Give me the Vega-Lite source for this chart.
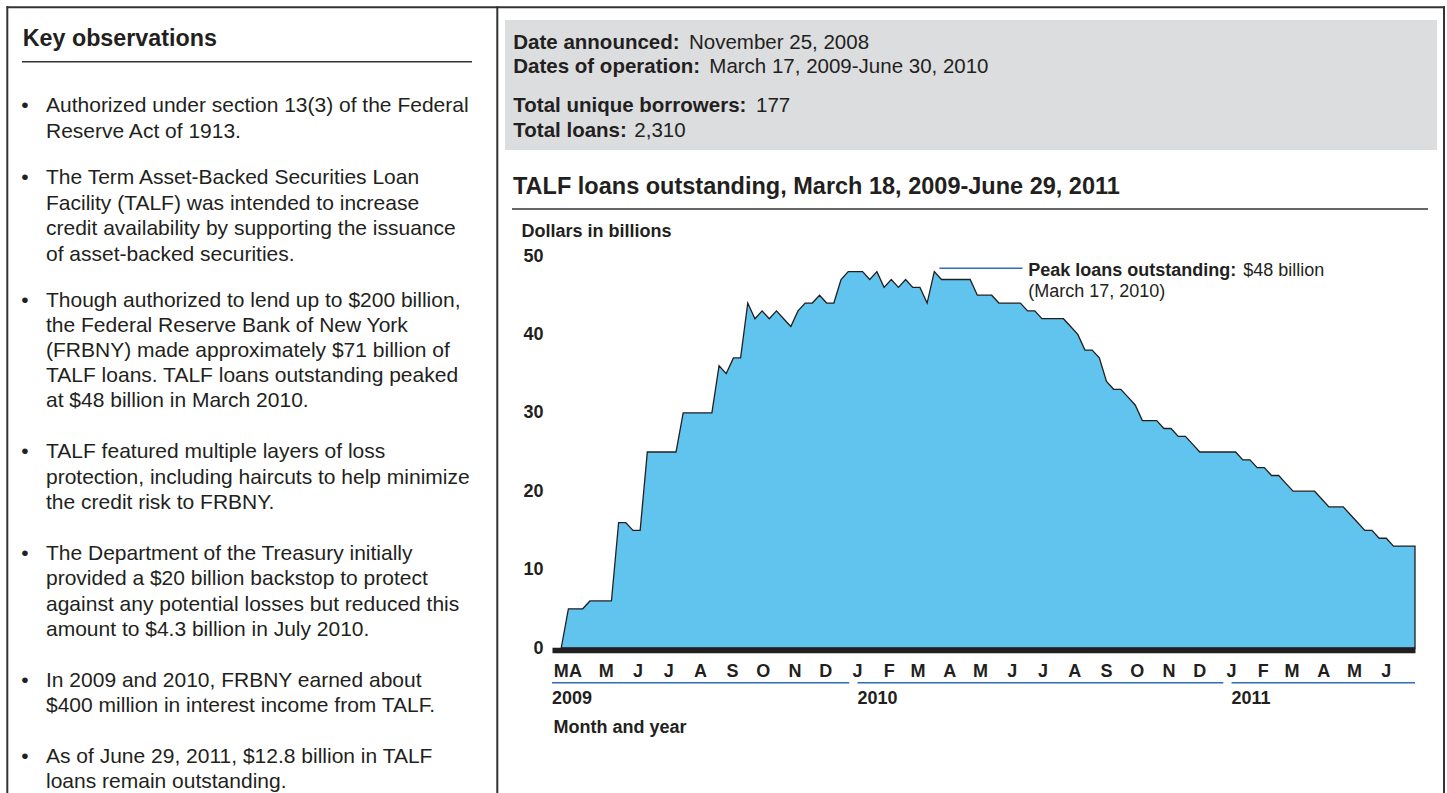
{
  "$schema": "https://vega.github.io/schema/vega-lite/v6.json",
  "width": 863,
  "height": 392,
  "autosize": {"type": "none"},
  "padding": {"left": 552, "top": 256, "right": 32, "bottom": 145},
  "background": "white",
  "config": {"font": "Liberation Sans", "view": {"stroke": null}, "text": {"color": "#231f20"}},
  "datasets": {
    "talf": [
      {"date": "2009-03-18", "loans": 0}, {"date": "2009-03-25", "loans": 5}, {"date": "2009-04-01", "loans": 5}, {"date": "2009-04-08", "loans": 5},
      {"date": "2009-04-15", "loans": 6}, {"date": "2009-04-22", "loans": 6}, {"date": "2009-04-29", "loans": 6}, {"date": "2009-05-06", "loans": 6},
      {"date": "2009-05-13", "loans": 16}, {"date": "2009-05-20", "loans": 16}, {"date": "2009-05-27", "loans": 15}, {"date": "2009-06-03", "loans": 15},
      {"date": "2009-06-10", "loans": 25}, {"date": "2009-06-17", "loans": 25}, {"date": "2009-06-24", "loans": 25}, {"date": "2009-07-01", "loans": 25},
      {"date": "2009-07-08", "loans": 25}, {"date": "2009-07-15", "loans": 30}, {"date": "2009-07-22", "loans": 30}, {"date": "2009-07-29", "loans": 30},
      {"date": "2009-08-05", "loans": 30}, {"date": "2009-08-12", "loans": 30}, {"date": "2009-08-19", "loans": 36}, {"date": "2009-08-26", "loans": 35},
      {"date": "2009-09-02", "loans": 37}, {"date": "2009-09-09", "loans": 37}, {"date": "2009-09-16", "loans": 44}, {"date": "2009-09-23", "loans": 42},
      {"date": "2009-09-30", "loans": 43}, {"date": "2009-10-07", "loans": 42}, {"date": "2009-10-14", "loans": 43}, {"date": "2009-10-21", "loans": 42},
      {"date": "2009-10-28", "loans": 41}, {"date": "2009-11-04", "loans": 43}, {"date": "2009-11-11", "loans": 44}, {"date": "2009-11-18", "loans": 44},
      {"date": "2009-11-25", "loans": 45}, {"date": "2009-12-02", "loans": 44}, {"date": "2009-12-09", "loans": 44}, {"date": "2009-12-16", "loans": 47},
      {"date": "2009-12-23", "loans": 48}, {"date": "2009-12-30", "loans": 48},
      {"date": "2010-01-06", "loans": 48}, {"date": "2010-01-13", "loans": 47}, {"date": "2010-01-20", "loans": 48}, {"date": "2010-01-27", "loans": 46},
      {"date": "2010-02-03", "loans": 47}, {"date": "2010-02-10", "loans": 46}, {"date": "2010-02-17", "loans": 47}, {"date": "2010-02-24", "loans": 46},
      {"date": "2010-03-03", "loans": 46}, {"date": "2010-03-10", "loans": 44}, {"date": "2010-03-17", "loans": 48}, {"date": "2010-03-24", "loans": 47},
      {"date": "2010-03-31", "loans": 47}, {"date": "2010-04-07", "loans": 47}, {"date": "2010-04-14", "loans": 47}, {"date": "2010-04-21", "loans": 47},
      {"date": "2010-04-28", "loans": 45}, {"date": "2010-05-05", "loans": 45}, {"date": "2010-05-12", "loans": 45}, {"date": "2010-05-19", "loans": 44},
      {"date": "2010-05-26", "loans": 44}, {"date": "2010-06-02", "loans": 44}, {"date": "2010-06-09", "loans": 44}, {"date": "2010-06-16", "loans": 43},
      {"date": "2010-06-23", "loans": 43}, {"date": "2010-06-30", "loans": 42}, {"date": "2010-07-07", "loans": 42}, {"date": "2010-07-14", "loans": 42},
      {"date": "2010-07-21", "loans": 42}, {"date": "2010-07-28", "loans": 41}, {"date": "2010-08-04", "loans": 40}, {"date": "2010-08-11", "loans": 38},
      {"date": "2010-08-18", "loans": 38}, {"date": "2010-08-25", "loans": 37}, {"date": "2010-09-01", "loans": 34}, {"date": "2010-09-08", "loans": 33},
      {"date": "2010-09-15", "loans": 33}, {"date": "2010-09-22", "loans": 32}, {"date": "2010-09-29", "loans": 31}, {"date": "2010-10-06", "loans": 29},
      {"date": "2010-10-13", "loans": 29}, {"date": "2010-10-20", "loans": 29}, {"date": "2010-10-27", "loans": 28}, {"date": "2010-11-03", "loans": 28},
      {"date": "2010-11-10", "loans": 27}, {"date": "2010-11-17", "loans": 27}, {"date": "2010-11-24", "loans": 26}, {"date": "2010-12-01", "loans": 25},
      {"date": "2010-12-08", "loans": 25}, {"date": "2010-12-15", "loans": 25}, {"date": "2010-12-22", "loans": 25}, {"date": "2010-12-29", "loans": 25},
      {"date": "2011-01-05", "loans": 25}, {"date": "2011-01-12", "loans": 24}, {"date": "2011-01-19", "loans": 24}, {"date": "2011-01-26", "loans": 23},
      {"date": "2011-02-02", "loans": 23}, {"date": "2011-02-09", "loans": 22}, {"date": "2011-02-16", "loans": 22}, {"date": "2011-02-23", "loans": 21},
      {"date": "2011-03-02", "loans": 20}, {"date": "2011-03-09", "loans": 20}, {"date": "2011-03-16", "loans": 20}, {"date": "2011-03-23", "loans": 20},
      {"date": "2011-03-30", "loans": 19}, {"date": "2011-04-06", "loans": 18}, {"date": "2011-04-13", "loans": 18}, {"date": "2011-04-20", "loans": 18},
      {"date": "2011-04-27", "loans": 17}, {"date": "2011-05-04", "loans": 16}, {"date": "2011-05-11", "loans": 15}, {"date": "2011-05-18", "loans": 15},
      {"date": "2011-05-25", "loans": 14}, {"date": "2011-06-01", "loans": 14}, {"date": "2011-06-08", "loans": 13}, {"date": "2011-06-15", "loans": 13},
      {"date": "2011-06-22", "loans": 13}, {"date": "2011-06-29", "loans": 13}
    ],
    "years": [
      {"year": "2009", "start": "2009-03-09", "end": "2009-12-24"},
      {"year": "2010", "start": "2010-01-01", "end": "2010-12-24"},
      {"year": "2011", "start": "2011-01-01", "end": "2011-06-29"}
    ],
    "months": [
      {"m": "M", "date": "2009-03-18"}, {"m": "A", "date": "2009-04-01"}, {"m": "M", "date": "2009-05-01"}, {"m": "J", "date": "2009-06-01"},
      {"m": "J", "date": "2009-07-01"}, {"m": "A", "date": "2009-08-01"}, {"m": "S", "date": "2009-09-01"}, {"m": "O", "date": "2009-10-01"},
      {"m": "N", "date": "2009-11-01"}, {"m": "D", "date": "2009-12-01"},
      {"m": "J", "date": "2010-01-01"}, {"m": "F", "date": "2010-02-01"}, {"m": "M", "date": "2010-03-01"}, {"m": "A", "date": "2010-04-01"},
      {"m": "M", "date": "2010-05-01"}, {"m": "J", "date": "2010-06-01"}, {"m": "J", "date": "2010-07-01"}, {"m": "A", "date": "2010-08-01"},
      {"m": "S", "date": "2010-09-01"}, {"m": "O", "date": "2010-10-01"}, {"m": "N", "date": "2010-11-01"}, {"m": "D", "date": "2010-12-01"},
      {"m": "J", "date": "2011-01-01"}, {"m": "F", "date": "2011-02-01"}, {"m": "M", "date": "2011-03-01"}, {"m": "A", "date": "2011-04-01"},
      {"m": "M", "date": "2011-05-01"}, {"m": "J", "date": "2011-06-01"}
    ]
  },
  "data": {"values": [{}]},
  "layer": [
    {"mark": {"type": "rect", "x": -47, "x2": 885, "y": -236, "y2": -106, "fill": "#dcdddf"}},
    {"mark": {"type": "rect", "x": -545.5, "x2": 893, "y": -249.7, "y2": -247.7, "fill": "#333333"}},
    {"mark": {"type": "rect", "x": -545.7, "x2": -543.7, "y": -249.7, "y2": 540, "fill": "#333333"}},
    {"mark": {"type": "rect", "x": -55.7, "x2": -53.7, "y": -249.7, "y2": 540, "fill": "#333333"}},
    {"mark": {"type": "rect", "x": 891, "x2": 893, "y": -249.7, "y2": 540, "fill": "#333333"}},
    {"mark": {"type": "rect", "x": -530, "x2": -80, "y": -195, "y2": -193.6, "fill": "#333333"}},
    {"mark": {"type": "rect", "x": -40, "x2": 876, "y": -47.7, "y2": -46.3, "fill": "#333333"}},
    {
      "data": {"name": "talf"},
      "mark": {"type": "area", "fill": "#61c4ee", "stroke": "#231f20", "strokeWidth": 1.3, "opacity": 1, "fillOpacity": 1},
      "encoding": {
        "x": {
          "field": "date", "type": "temporal", "title": "Month and year",
          "scale": {"type": "utc", "domain": [{"year": 2009, "month": 3, "date": 9, "utc": true}, {"year": 2011, "month": 6, "date": 29, "utc": true}]},
          "axis": {
            "labels": false, "ticks": false, "tickSize": 0, "grid": false,
            "domainColor": "#231f20", "domainWidth": 5.4, "domainCap": "butt", "offset": 2, "zindex": 1,
            "title": "Month and year", "titleFontSize": 18, "titleFontWeight": "bold", "titleColor": "#231f20",
            "titleAlign": "left", "titleBaseline": "alphabetic", "titleX": 1, "titleY": 82.2
          }
        },
        "y": {
          "field": "loans", "type": "quantitative", "title": "Dollars in billions",
          "scale": {"domain": [0, 50], "nice": false},
          "axis": {
            "values": [0, 10, 20, 30, 40, 50],
            "labelFontSize": 18, "labelFontWeight": "bold", "labelColor": "#231f20", "labelPadding": 9, "labelBaseline": "middle",
            "ticks": false, "tickSize": 0, "domain": false, "grid": false,
            "title": "Dollars in billions", "titleAngle": 0, "titleAlign": "left", "titleBaseline": "alphabetic",
            "titleX": -31, "titleY": -20, "titleFontSize": 18, "titleFontWeight": "bold", "titleColor": "#231f20"
          }
        }
      }
    },
    {
      "data": {"name": "months"},
      "mark": {"type": "text", "align": "center", "baseline": "alphabetic", "fontSize": 18, "fontWeight": "bold", "color": "#231f20"},
      "encoding": {
        "x": {"field": "date", "type": "temporal", "title": "Month and year"},
        "y": {"value": 421.3},
        "text": {"field": "m"}
      }
    },
    {
      "mark": {"type": "rule", "stroke": "#2f6db5", "strokeWidth": 1.5},
      "encoding": {
        "x": {"datum": {"year": 2010, "month": 3, "date": 22, "utc": true}, "type": "temporal", "title": "Month and year"},
        "x2": {"datum": {"year": 2010, "month": 6, "date": 11, "utc": true}},
        "y": {"datum": 48.45, "type": "quantitative", "title": "Dollars in billions"}
      }
    },
    {
      "data": {"name": "years"},
      "mark": {"type": "rule", "stroke": "#2f6db5", "strokeWidth": 1.5},
      "encoding": {
        "x": {"field": "start", "type": "temporal", "title": "Month and year"},
        "x2": {"field": "end"},
        "y": {"value": 426.7}
      }
    },
    {
      "data": {"name": "years"},
      "mark": {"type": "text", "align": "left", "baseline": "alphabetic", "fontSize": 18, "fontWeight": "bold", "color": "#231f20"},
      "encoding": {
        "x": {"field": "start", "type": "temporal", "title": "Month and year"},
        "y": {"value": 448},
        "text": {"field": "year"}
      }
    },
    {"mark": {"type": "text", "text": "Peak loans outstanding:", "x": 476.3, "y": 20, "align": "left", "baseline": "alphabetic", "fontSize": 18, "fontWeight": "bold", "color": "#231f20"}},
    {"mark": {"type": "text", "text": "$48 billion", "x": 691.3, "y": 20, "align": "left", "baseline": "alphabetic", "fontSize": 18, "color": "#231f20"}},
    {"mark": {"type": "text", "text": "(March 17, 2010)", "x": 476.3, "y": 40.5, "align": "left", "baseline": "alphabetic", "fontSize": 18, "color": "#231f20"}},
    {"mark": {"type": "text", "text": "TALF loans outstanding, March 18, 2009-June 29, 2011", "x": -39, "y": -62.5, "align": "left", "baseline": "alphabetic", "fontSize": 23.5, "fontWeight": "bold", "color": "#231f20"}},
    {"mark": {"type": "text", "text": "Date announced:", "x": -38.7, "y": -207.5, "align": "left", "baseline": "alphabetic", "fontSize": 20.5, "fontWeight": "bold", "color": "#231f20"}},
    {"mark": {"type": "text", "text": "November 25, 2008", "x": 137, "y": -207.5, "align": "left", "baseline": "alphabetic", "fontSize": 20.5, "color": "#231f20"}},
    {"mark": {"type": "text", "text": "Dates of operation:", "x": -38.7, "y": -183.2, "align": "left", "baseline": "alphabetic", "fontSize": 20.5, "fontWeight": "bold", "color": "#231f20"}},
    {"mark": {"type": "text", "text": "March 17, 2009-June 30, 2010", "x": 157.3, "y": -183.2, "align": "left", "baseline": "alphabetic", "fontSize": 20.5, "color": "#231f20"}},
    {"mark": {"type": "text", "text": "Total unique borrowers:", "x": -38.7, "y": -144, "align": "left", "baseline": "alphabetic", "fontSize": 20.5, "fontWeight": "bold", "color": "#231f20"}},
    {"mark": {"type": "text", "text": "177", "x": 204, "y": -144, "align": "left", "baseline": "alphabetic", "fontSize": 20.5, "color": "#231f20"}},
    {"mark": {"type": "text", "text": "Total loans:", "x": -38.7, "y": -119.5, "align": "left", "baseline": "alphabetic", "fontSize": 20.5, "fontWeight": "bold", "color": "#231f20"}},
    {"mark": {"type": "text", "text": "2,310", "x": 82.3, "y": -119.5, "align": "left", "baseline": "alphabetic", "fontSize": 20.5, "color": "#231f20"}},
    {"mark": {"type": "text", "text": "Key observations", "x": -529.3, "y": -210, "align": "left", "baseline": "alphabetic", "fontSize": 23.3, "fontWeight": "bold", "color": "#231f20"}},
    {"mark": {"type": "text", "text": "•", "x": -527, "y": -143.7, "align": "center", "baseline": "alphabetic", "fontSize": 21, "color": "#231f20"}},
    {"mark": {"type": "text", "text": ["Authorized under section 13(3) of the Federal", "Reserve Act of 1913."], "x": -506, "y": -143.7, "align": "left", "baseline": "alphabetic", "fontSize": 21, "lineHeight": 25.4, "color": "#231f20"}},
    {"mark": {"type": "text", "text": "•", "x": -527, "y": -71.7, "align": "center", "baseline": "alphabetic", "fontSize": 21, "color": "#231f20"}},
    {"mark": {"type": "text", "text": ["The Term Asset-Backed Securities Loan", "Facility (TALF) was intended to increase", "credit availability by supporting the issuance", "of asset-backed securities."], "x": -506, "y": -71.7, "align": "left", "baseline": "alphabetic", "fontSize": 21, "lineHeight": 25.6, "color": "#231f20"}},
    {"mark": {"type": "text", "text": "•", "x": -527, "y": 50.7, "align": "center", "baseline": "alphabetic", "fontSize": 21, "color": "#231f20"}},
    {"mark": {"type": "text", "text": ["Though authorized to lend up to $200 billion,", "the Federal Reserve Bank of New York", "(FRBNY) made approximately $71 billion of", "TALF loans. TALF loans outstanding peaked", "at $48 billion in March 2010."], "x": -506, "y": 50.7, "align": "left", "baseline": "alphabetic", "fontSize": 21, "lineHeight": 25.2, "color": "#231f20"}},
    {"mark": {"type": "text", "text": "•", "x": -527, "y": 202.3, "align": "center", "baseline": "alphabetic", "fontSize": 21, "color": "#231f20"}},
    {"mark": {"type": "text", "text": ["TALF featured multiple layers of loss", "protection, including haircuts to help minimize", "the credit risk to FRBNY."], "x": -506, "y": 202.3, "align": "left", "baseline": "alphabetic", "fontSize": 21, "lineHeight": 25.4, "color": "#231f20"}},
    {"mark": {"type": "text", "text": "•", "x": -527, "y": 304, "align": "center", "baseline": "alphabetic", "fontSize": 21, "color": "#231f20"}},
    {"mark": {"type": "text", "text": ["The Department of the Treasury initially", "provided a $20 billion backstop to protect", "against any potential losses but reduced this", "amount to $4.3 billion in July 2010."], "x": -506, "y": 304, "align": "left", "baseline": "alphabetic", "fontSize": 21, "lineHeight": 25.4, "color": "#231f20"}},
    {"mark": {"type": "text", "text": "•", "x": -527, "y": 431.3, "align": "center", "baseline": "alphabetic", "fontSize": 21, "color": "#231f20"}},
    {"mark": {"type": "text", "text": ["In 2009 and 2010, FRBNY earned about", "$400 million in interest income from TALF."], "x": -506, "y": 431.3, "align": "left", "baseline": "alphabetic", "fontSize": 21, "lineHeight": 25.2, "color": "#231f20"}},
    {"mark": {"type": "text", "text": "•", "x": -527, "y": 506.7, "align": "center", "baseline": "alphabetic", "fontSize": 21, "color": "#231f20"}},
    {"mark": {"type": "text", "text": ["As of June 29, 2011, $12.8 billion in TALF", "loans remain outstanding."], "x": -506, "y": 506.7, "align": "left", "baseline": "alphabetic", "fontSize": 21, "lineHeight": 25.6, "color": "#231f20"}}
  ]
}
